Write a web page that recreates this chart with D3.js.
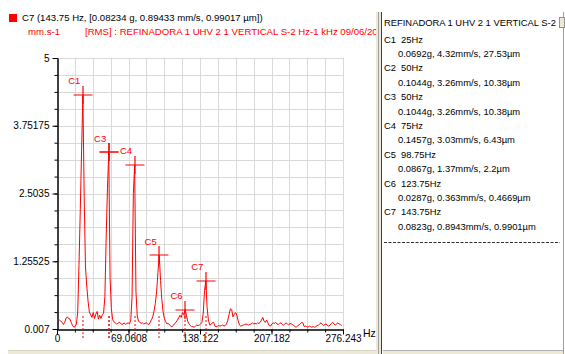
<!DOCTYPE html>
<html>
<head>
<meta charset="utf-8">
<script src="https://cdn.jsdelivr.net/npm/d3@7"></script>
<style>
  body { margin: 0; background: #fff; }
  svg { display: block; font-family: "Liberation Sans", Arial, sans-serif; }
</style>
</head>
<body>
<svg id="chart" width="565" height="354"></svg>
<script>
// spectrum, one value per 1.25 Hz bin (mm/s RMS)
const freqStep = 1.25;
const amplitudes = [
  0.17, 0.18, 0.17, 0.15, 0.13, 0.09, 0.13, 0.21, 0.23, 0.20,
  0.19, 0.13, 0.07, 0.04, 0.05, 0.10, 0.32, 1.20, 2.20, 3.30,
  4.32, 2.45, 1.15, 0.80, 0.52, 0.32, 0.27, 0.22, 0.31, 0.20,
  0.28, 0.33, 0.19, 0.26, 0.20, 0.27, 0.30, 0.60, 1.70, 2.60,
  3.26, 0.95, 0.38, 0.18, 0.14, 0.12, 0.10, 0.11, 0.13, 0.12,
  0.09, 0.10, 0.12, 0.09, 0.11, 0.12, 0.10, 0.17, 0.60, 2.50,
  3.03, 0.70, 0.25, 0.15, 0.13, 0.11, 0.12, 0.10, 0.11, 0.12,
  0.10, 0.09, 0.13, 0.18, 0.23, 0.34, 0.48, 0.70, 1.05, 1.37,
  0.90, 0.55, 0.32, 0.20, 0.14, 0.10, 0.11, 0.08, 0.06, 0.05,
  0.08, 0.11, 0.13, 0.17, 0.21, 0.26, 0.22, 0.31, 0.27, 0.363,
  0.26, 0.15, 0.10, 0.07, 0.05, 0.05, 0.04, 0.06, 0.08, 0.07,
  0.08, 0.10, 0.13, 0.30, 0.72, 0.894, 0.40, 0.17, 0.08, 0.09,
  0.12, 0.13, 0.06, 0.05, 0.06, 0.07, 0.06, 0.07, 0.08, 0.06,
  0.07, 0.10, 0.17, 0.28, 0.38, 0.36, 0.23, 0.28, 0.31, 0.26,
  0.16, 0.08, 0.06, 0.07, 0.08, 0.09, 0.10, 0.09, 0.08, 0.09,
  0.10, 0.12, 0.10, 0.11, 0.10, 0.12, 0.11, 0.13, 0.17, 0.22,
  0.15, 0.13, 0.17, 0.12, 0.07, 0.06, 0.10, 0.12, 0.11, 0.13,
  0.10, 0.09, 0.11, 0.12, 0.09, 0.08, 0.10, 0.12, 0.10, 0.08,
  0.11, 0.10, 0.09, 0.07, 0.05, 0.04, 0.07, 0.08, 0.10, 0.13,
  0.12, 0.05, 0.06, 0.05, 0.04, 0.06, 0.05, 0.04, 0.05, 0.04,
  0.05, 0.07, 0.08, 0.10, 0.12, 0.09, 0.07, 0.09, 0.10, 0.07,
  0.06, 0.08, 0.11, 0.13, 0.10, 0.08, 0.10, 0.12, 0.10, 0.09,
  0.07
];

// cursors
const cursorNames = ["C1", "C2", "C3", "C4", "C5", "C6", "C7"];
const cursorFreqs = [25, 50, 50, 75, 98.75, 123.75, 143.75];
const cursorAccel = [0.0692, 0.1044, 0.1044, 0.1457, 0.0867, 0.0287, 0.0823];
const cursorVel = [4.32, 3.26, 3.26, 3.03, 1.37, 0.363, 0.8943];
const cursorDisp = [27.53, 10.38, 10.38, 6.43, 2.2, 0.4669, 0.9901];

// axes
const xMax = 276.243;
const yMin = 0.007, yMax = 5;
const xTickLabels = ["0", "69.0608", "138.122", "207.182", "276.243"];
const yTickLabels = ["0.007", "1.25525", "2.5035", "3.75175", "5"];

const headerText = "C7 (143.75 Hz, [0.08234 g, 0.89433 mm/s, 0.99017 \u00b5m])";
const unitText = "mm.s-1";
const titleText = "[RMS] : REFINADORA 1 UHV 2 1 VERTICAL S-2 Hz-1 kHz 09/06/2011";
const panelTitle = "REFINADORA 1 UHV 2 1 VERTICAL S-2 Hz-1 kHz";

const red = "#ff0000";
const svg = d3.select("#chart");

const x = d3.scaleLinear().domain([0, xMax]).range([57, 343]);
const y = d3.scaleLinear().domain([yMin, yMax]).range([329, 58]);

const nDiv = 16;
const xGrid = d3.range(nDiv + 1).map(i => i * xMax / nDiv);
const yGrid = d3.range(nDiv + 1).map(i => yMin + i * (yMax - yMin) / nDiv);

// header
svg.append("rect").attr("x", 9).attr("y", 14).attr("width", 8).attr("height", 8).attr("fill", red);
svg.append("text").attr("x", 22).attr("y", 21).attr("font-size", 9.6).attr("fill", "#000").text(headerText);
svg.append("text").attr("x", 28).attr("y", 35).attr("font-size", 9.6).attr("fill", red).text(unitText);

svg.append("clipPath").attr("id", "leftclip")
  .append("rect").attr("x", 0).attr("y", 0).attr("width", 377).attr("height", 354);
svg.append("text").attr("clip-path", "url(#leftclip)")
  .attr("x", 85).attr("y", 35).attr("font-size", 9.6).attr("fill", red).text(titleText);

// grid
const grid = svg.append("g").attr("stroke", "#d9d9d9").attr("stroke-width", 1);
grid.selectAll(".gx").data(xGrid.slice(1)).enter().append("line")
  .attr("x1", d => Math.round(x(d)) + 0.5).attr("x2", d => Math.round(x(d)) + 0.5)
  .attr("y1", 58).attr("y2", 329);
grid.selectAll(".gy").data(yGrid.slice(1)).enter().append("line")
  .attr("y1", d => Math.round(y(d)) + 0.5).attr("y2", d => Math.round(y(d)) + 0.5)
  .attr("x1", 57).attr("x2", 343);

// axes: minor ticks at every grid line, major with labels
const majorX = xGrid.filter((d, i) => i % 4 === 0);
const majorY = yGrid.filter((d, i) => i % 4 === 0);

function styleAxis(g) {
  g.select(".domain").attr("stroke", "#000");
  g.selectAll(".tick line").attr("stroke", "#000");
  g.selectAll("text").attr("fill", "#000").attr("font-size", 10)
    .attr("font-family", "Liberation Sans, Arial, sans-serif");
}

svg.append("g").attr("transform", "translate(0,329.5)")
  .call(d3.axisBottom(x).tickValues(xGrid).tickSize(3).tickSizeOuter(0).tickFormat(""))
  .call(styleAxis);
svg.append("g").attr("transform", "translate(0,329.5)")
  .call(d3.axisBottom(x).tickValues(majorX).tickSize(5).tickSizeOuter(0)
    .tickFormat((d, i) => xTickLabels[i]))
  .call(styleAxis)
  .call(g => g.selectAll("text").attr("dy", "0.45em"));

svg.append("g").attr("transform", "translate(57.5,0)")
  .call(d3.axisLeft(y).tickValues(yGrid).tickSize(3).tickSizeOuter(0).tickFormat(""))
  .call(styleAxis);
svg.append("g").attr("transform", "translate(57.5,0)")
  .call(d3.axisLeft(y).tickValues(majorY).tickSize(5).tickSizeOuter(0)
    .tickFormat((d, i) => yTickLabels[i]))
  .call(styleAxis)
  .call(g => g.selectAll("text").attr("x", -8));

svg.append("text").attr("x", 363).attr("y", 337).attr("font-size", 10.5).attr("fill", "#000").text("Hz");

// spectrum
svg.append("clipPath").attr("id", "plotclip")
  .append("rect").attr("x", 57).attr("y", 50).attr("width", 287).attr("height", 280);

const line = d3.line()
  .x((d, i) => x(i * freqStep))
  .y(d => y(d));

svg.append("path")
  .datum(amplitudes)
  .attr("clip-path", "url(#plotclip)")
  .attr("fill", "none")
  .attr("stroke", red)
  .attr("stroke-width", 1)
  .attr("d", line);

// cursor markers
const cursors = cursorNames.map((n, i) => ({ name: n, f: cursorFreqs[i], v: cursorVel[i], i }));

// dotted frequency marks under the curve
svg.selectAll("path.mark").data(cursors).enter().append("path")
  .attr("class", "mark")
  .attr("d", d => "M" + Math.round(x(d.f)) + ",316V339")
  .attr("fill", "none")
  .attr("stroke", red)
  .attr("stroke-width", 1)
  .attr("stroke-dasharray", "2,2");

// crosses at the cursor values (soft 1px lines, as in the original)
svg.selectAll("path.cross").data(cursors).enter().append("path")
  .attr("class", "cross")
  .attr("d", d => {
    const cx = Math.round(x(d.f)), cy = Math.round(y(d.v));
    return "M" + (cx - 9.5) + "," + cy + "H" + (cx + 9.5) +
      "M" + cx + "," + (cy - 9) + "V" + (cy + 9);
  })
  .attr("fill", "none")
  .attr("stroke", red)
  .attr("stroke-width", 1.2);

// a label hidden under a later cursor at the same frequency is not drawn
svg.selectAll("text.clab")
  .data(cursors.filter(d => !cursors.some(o => o.i > d.i && o.f === d.f)))
  .enter().append("text")
  .attr("class", "clab")
  .attr("x", d => x(d.f) - 2.5)
  .attr("y", d => y(d.v) - 10.5)
  .attr("text-anchor", "end")
  .attr("font-size", 9.5)
  .attr("fill", red)
  .text(d => d.name);

// separator and bottom bars
svg.append("rect").attr("x", 376).attr("y", 12).attr("width", 6).attr("height", 342).attr("fill", "#ece9d8");
svg.append("line").attr("x1", 378.5).attr("x2", 378.5).attr("y1", 12).attr("y2", 354).attr("stroke", "#a0a0a0");
svg.append("line").attr("x1", 381.5).attr("x2", 381.5).attr("y1", 12).attr("y2", 354).attr("stroke", "#404040");
svg.append("line").attr("x1", 563.5).attr("x2", 563.5).attr("y1", 12).attr("y2", 354).attr("stroke", "#a0a0a0");
svg.append("rect").attr("x", 8).attr("y", 350).attr("width", 368).attr("height", 4).attr("fill", "#ece9d8");
svg.append("line").attr("x1", 8).attr("x2", 376).attr("y1", 350.5).attr("y2", 350.5).attr("stroke", "#d8d4c4");
svg.append("rect").attr("x", 383).attr("y", 350).attr("width", 180).attr("height", 4).attr("fill", "#ece9d8");
svg.append("line").attr("x1", 383).attr("x2", 563).attr("y1", 350.5).attr("y2", 350.5).attr("stroke", "#b0b0b0");

// right panel text
svg.append("clipPath").attr("id", "panelclip")
  .append("rect").attr("x", 382).attr("y", 0).attr("width", 176).attr("height", 354);
const panel = svg.append("g").attr("clip-path", "url(#panelclip)")
  .attr("font-size", 9.4).attr("fill", "#000");
panel.append("text").attr("x", 384).attr("y", 25.5).text(panelTitle);
svg.append("rect").attr("x", 559.5).attr("y", 17.5).attr("width", 5).attr("height", 10)
  .attr("fill", "#ece9d8").attr("stroke", "#909090");

const rowH = 14.4;
cursors.forEach((d, k) => {
  const y0 = 42.5 + 2 * k * rowH;
  panel.append("text").attr("x", 384).attr("y", y0).text(d.name);
  panel.append("text").attr("x", 401).attr("y", y0).text(d.f + "Hz");
  panel.append("text").attr("x", 398).attr("y", y0 + rowH)
    .text(cursorAccel[k] + "g, " + cursorVel[k] + "mm/s, " + cursorDisp[k] + "\u00b5m");
});
svg.append("line").attr("x1", 384).attr("x2", 560)
  .attr("y1", 242.5).attr("y2", 242.5)
  .attr("stroke", "#303030").attr("stroke-dasharray", "3,1.5");
</script>
</body>
</html>
